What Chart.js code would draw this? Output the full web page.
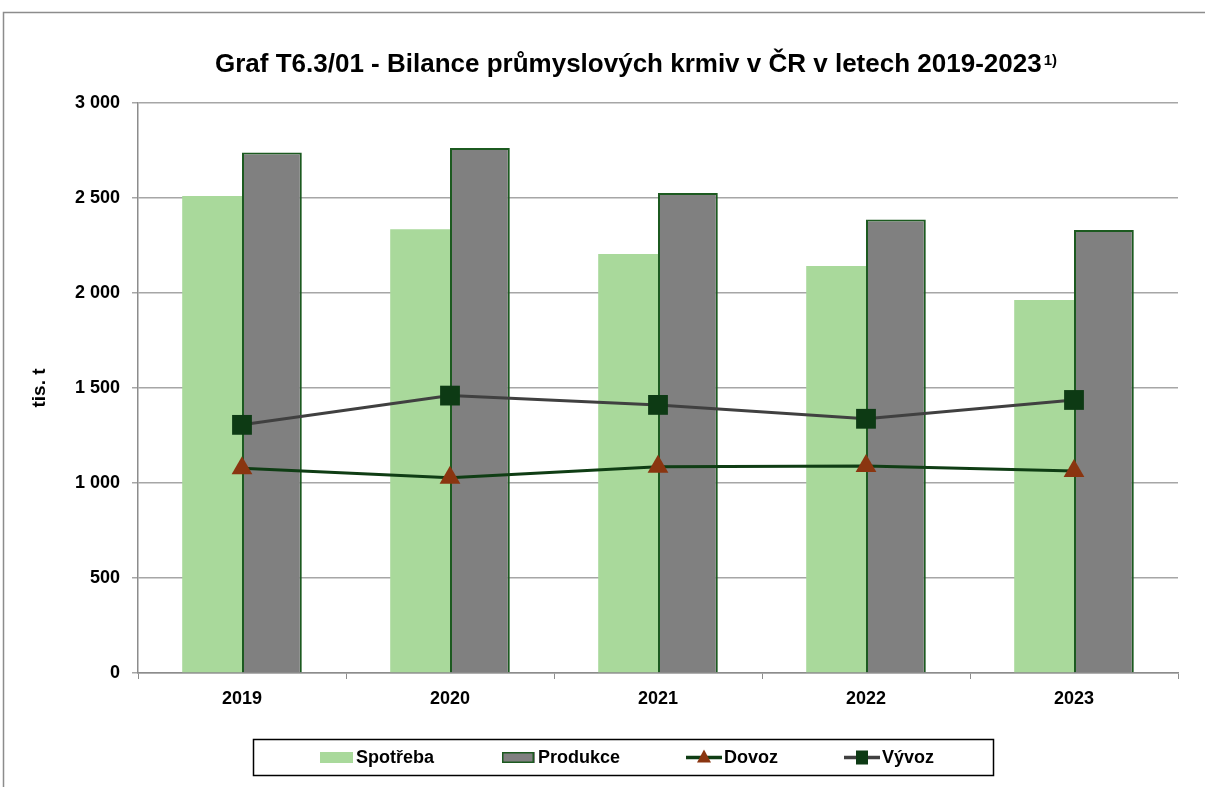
<!DOCTYPE html>
<html>
<head>
<meta charset="utf-8">
<script src="https://cdn.jsdelivr.net/npm/chart.js@4.4.0/dist/chart.umd.min.js"></script>
<style>
  html, body { margin: 0; padding: 0; background: #fff; }
  #wrap { width: 1205px; height: 787px; }
</style>
</head>
<body>
<div id="wrap"><canvas id="graf"></canvas></div>
<script>
// data (tis. t)
var years = ['2019', '2020', '2021', '2022', '2023'];
var spotreba = [2511, 2335, 2205, 2142, 1963];
var produkce = [2740, 2763, 2526, 2387, 2332];
var dovoz = [1078, 1027, 1085, 1090, 1063];
var vyvoz = [1306, 1460, 1411, 1338, 1437];
var yTicks = [0, 500, 1000, 1500, 2000, 2500, 3000];

var FONT = '"Liberation Sans", Arial, sans-serif';

function fmt(v) {
  return String(v).replace(/\B(?=(\d{3})+(?!\d))/g, ' ');
}

// white background, outer frame, title with superscript
var framePlugin = {
  id: 'frame',
  beforeDraw: function(chart) {
    var c = chart.ctx;
    c.save();
    c.fillStyle = '#fff';
    c.fillRect(0, 0, chart.width, chart.height);
    c.strokeStyle = '#8c8c8c';
    c.lineWidth = 1.5;
    c.strokeRect(3.5, 12.5, chart.width + 10, chart.height + 10);
    c.restore();
  },
  afterDraw: function(chart) {
    var c = chart.ctx;
    c.save();
    var main = 'Graf T6.3/01 - Bilance průmyslových krmiv v ČR v letech 2019-2023';
    var sup = '1)';
    c.font = 'bold 26px ' + FONT;
    var w1 = c.measureText(main).width;
    c.font = 'bold 15px ' + FONT;
    var w2 = c.measureText(sup).width;
    var x0 = 636 - (w1 + w2 + 2) / 2;
    c.fillStyle = '#000';
    c.textBaseline = 'alphabetic';
    c.font = 'bold 26px ' + FONT;
    c.fillText(main, x0, 72);
    c.font = 'bold 15px ' + FONT;
    c.fillText(sup, x0 + w1 + 2, 65);
    c.restore();
  }
};

// legend in a framed box under the plot
var legendPlugin = {
  id: 'boxLegend',
  afterDraw: function(chart) {
    var c = chart.ctx;
    var ds = chart.data.datasets;
    var starts = [320, 502, 686, 844];
    var cy = 757.5;
    c.save();
    c.strokeStyle = '#000';
    c.lineWidth = 1.5;
    c.strokeRect(253.5, 739.5, 740, 36);
    ds.forEach(function(d, i) {
      var x = starts[i];
      if (d.type === 'bar') {
        c.fillStyle = d.backgroundColor;
        c.fillRect(x, cy - 5.5, 33, 11);
        if (d.borderWidth) {
          c.strokeStyle = d.borderColor;
          c.lineWidth = 1.5;
          c.strokeRect(x + 0.75, cy - 4.75, 30.5, 9.5);
        }
      } else {
        c.strokeStyle = d.borderColor;
        c.lineWidth = 3.5;
        c.beginPath();
        c.moveTo(x, cy);
        c.lineTo(x + 36, cy);
        c.stroke();
        c.fillStyle = d.pointBackgroundColor;
        if (d.pointStyle === 'triangle') {
          c.beginPath();
          c.moveTo(x + 18, cy - 8);
          c.lineTo(x + 25, cy + 5);
          c.lineTo(x + 11, cy + 5);
          c.closePath();
          c.fill();
        } else {
          c.fillRect(x + 12, cy - 7, 12, 14);
        }
      }
      c.font = 'bold 18px ' + FONT;
      c.textBaseline = 'middle';
      c.fillStyle = '#000';
      c.fillText(d.label, x + (d.type === 'bar' ? 36 : 38), cy + 1);
    });
    c.restore();
  }
};

function createChart() {
  var ctx = document.getElementById('graf').getContext('2d');
  new Chart(ctx, {
    data: {
      labels: years,
      datasets: [{
        type: 'bar',
        label: 'Spotřeba',
        data: spotreba,
        backgroundColor: '#a9d99b',
        borderWidth: 0,
        order: 2
      }, {
        type: 'bar',
        label: 'Produkce',
        data: produkce,
        backgroundColor: '#808080',
        borderColor: '#1c5a20',
        borderWidth: 2,
        order: 2
      }, {
        type: 'line',
        label: 'Dovoz',
        data: dovoz,
        borderColor: '#0f3d14',
        borderWidth: 3,
        pointStyle: 'triangle',
        pointRadius: 12,
        pointBackgroundColor: '#8a3510',
        pointBorderColor: '#8a3510',
        pointBorderWidth: 0,
        tension: 0,
        order: 1
      }, {
        type: 'line',
        label: 'Vývoz',
        data: vyvoz,
        borderColor: '#404040',
        borderWidth: 3,
        pointStyle: 'rect',
        pointRadius: 14,
        pointBackgroundColor: '#0d3a14',
        pointBorderColor: '#0d3a14',
        pointBorderWidth: 0,
        tension: 0,
        order: 0
      }]
    },
    options: {
      responsive: true,
      maintainAspectRatio: false,
      animation: false,
      layout: { padding: { left: 0, right: 27, top: 103, bottom: 78 } },
      datasets: {
        bar: { categoryPercentage: 0.575, barPercentage: 1 }
      },
      plugins: {
        legend: { display: false },
        title: { display: false },
        tooltip: { enabled: false }
      },
      scales: {
        x: {
          offset: true,
          grid: {
            offset: true,
            drawOnChartArea: false,
            drawTicks: true,
            tickLength: 6,
            color: '#8c8c8c'
          },
          border: { color: '#8c8c8c', width: 1.5 },
          ticks: {
            color: '#000',
            padding: 9,
            font: { family: FONT, size: 18, weight: 'bold' }
          },
          afterFit: function(s) { s.height = 36; }
        },
        y: {
          min: 0,
          max: 3000,
          afterBuildTicks: function(s) {
            s.ticks = yTicks.map(function(v) { return { value: v }; });
          },
          grid: {
            color: '#a6a6a6',
            lineWidth: 1.5,
            tickLength: 6
          },
          border: { color: '#8c8c8c', width: 1.5 },
          ticks: {
            color: '#000',
            padding: 12,
            font: { family: FONT, size: 18, weight: 'bold' },
            callback: function(v) { return fmt(v); }
          },
          title: {
            display: true,
            text: 'tis. t',
            color: '#000',
            padding: { top: 28, bottom: 0 },
            font: { family: FONT, size: 19, weight: 'bold' }
          },
          afterFit: function(s) { s.width = 138; }
        }
      }
    },
    plugins: [framePlugin, legendPlugin]
  });
}

window.addEventListener('load', function() {
  createChart();
});
</script>
</body>
</html>
